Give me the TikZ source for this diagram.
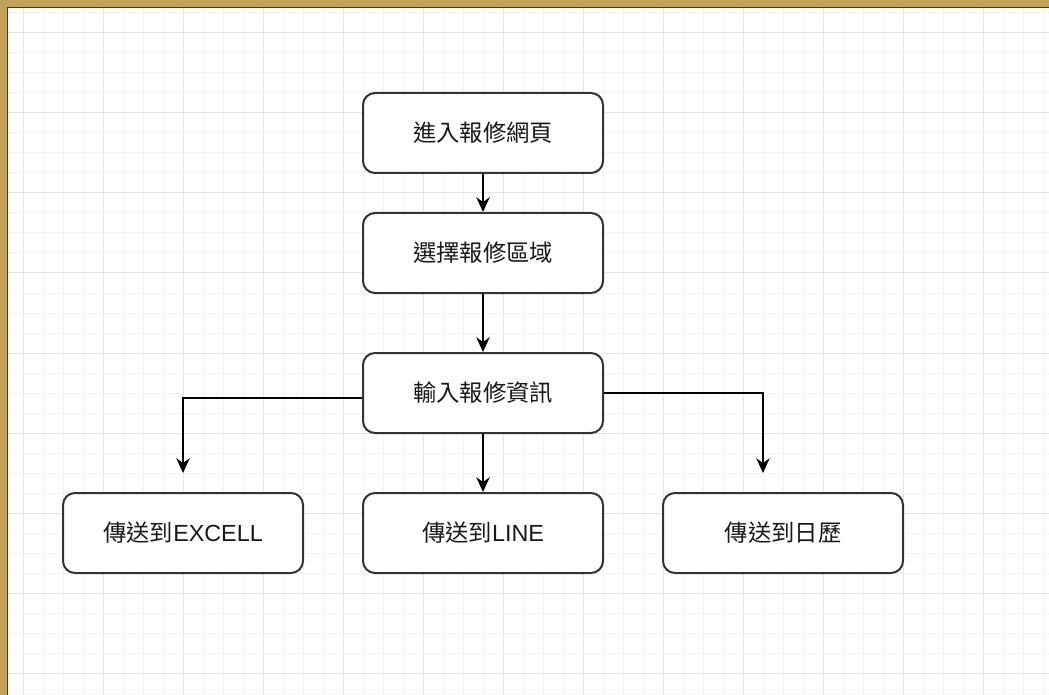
\documentclass[tikz,border=0pt]{standalone}
\usepackage{fontspec}
\setmainfont{Liberation Sans}
\newfontfamily\cjk{Noto Sans CJK TC}
\usepackage{tikz}
\usetikzlibrary{arrows.meta,calc,positioning}

\definecolor{frame}{HTML}{C4A15B}
\definecolor{frameline}{HTML}{2F3F3F}
\definecolor{minorgrid}{HTML}{F3F3F3}
\definecolor{majorgrid}{HTML}{E4E4E4}
\definecolor{boxline}{HTML}{333333}

\tikzset{
  stepbox/.style={draw=boxline, line width=1.5pt, rounded corners=9pt, fill=white,
    minimum width=180pt, minimum height=60pt, inner sep=0pt,
    font=\fontsize{17.5pt}{20pt}\selectfont, text=black!90},
  flow/.style={line width=1.4pt, -{Stealth[length=11pt, width=10pt, inset=3.5pt]}}
}

\begin{document}
\begin{tikzpicture}[x=0.75pt, y=-0.75pt]
    \useasboundingbox (0,0) rectangle (1049,695);
    \fill[frame] (0,0) rectangle (1049,695);
    \fill[white] (8,8) rectangle (1049,695);
    \draw[frameline, line width=0.9pt] (7.5,695) -- (7.5,7.5) -- (1049,7.5);

    \foreach \x in {23,43,...,1043}
      \draw[minorgrid, line width=0.75pt] (\x,8) -- (\x,695);
    \foreach \y in {13,33,...,693}
      \draw[minorgrid, line width=0.75pt] (8,\y) -- (1049,\y);
    \foreach \x in {23,103,...,1043}
      \draw[majorgrid, line width=0.75pt] (\x,8) -- (\x,695);
    \foreach \y in {33,113,...,693}
      \draw[majorgrid, line width=0.75pt] (8,\y) -- (1049,\y);

    \node[stepbox] (enter) at (483,133) {\cjk 進入報修網頁};
    \node[stepbox] (area) at (483,253) {\cjk 選擇報修區域};
    \node[stepbox] (input) at (483,393) {\cjk 輸入報修資訊};

    \node[stepbox] (excel) at (183,533) {{\cjk 傳送到}EXCELL};
    \node[stepbox] (line) at (483,533) {{\cjk 傳送到}LINE};
    \node[stepbox] (calendar) at (783,533) {\cjk 傳送到日歷};

    \coordinate (excelin) at (183,473);
    \coordinate (calendarin) at (763,473);

    \draw[flow] (enter) -- (area);
    \draw[flow] (area) -- (input);
    \draw[flow] (input) -- (line);
    \draw[flow] ([yshift=-3.5pt]input.west) -| (excelin);
    \draw[flow] (input.east) -| (calendarin);
\end{tikzpicture}
\end{document}
